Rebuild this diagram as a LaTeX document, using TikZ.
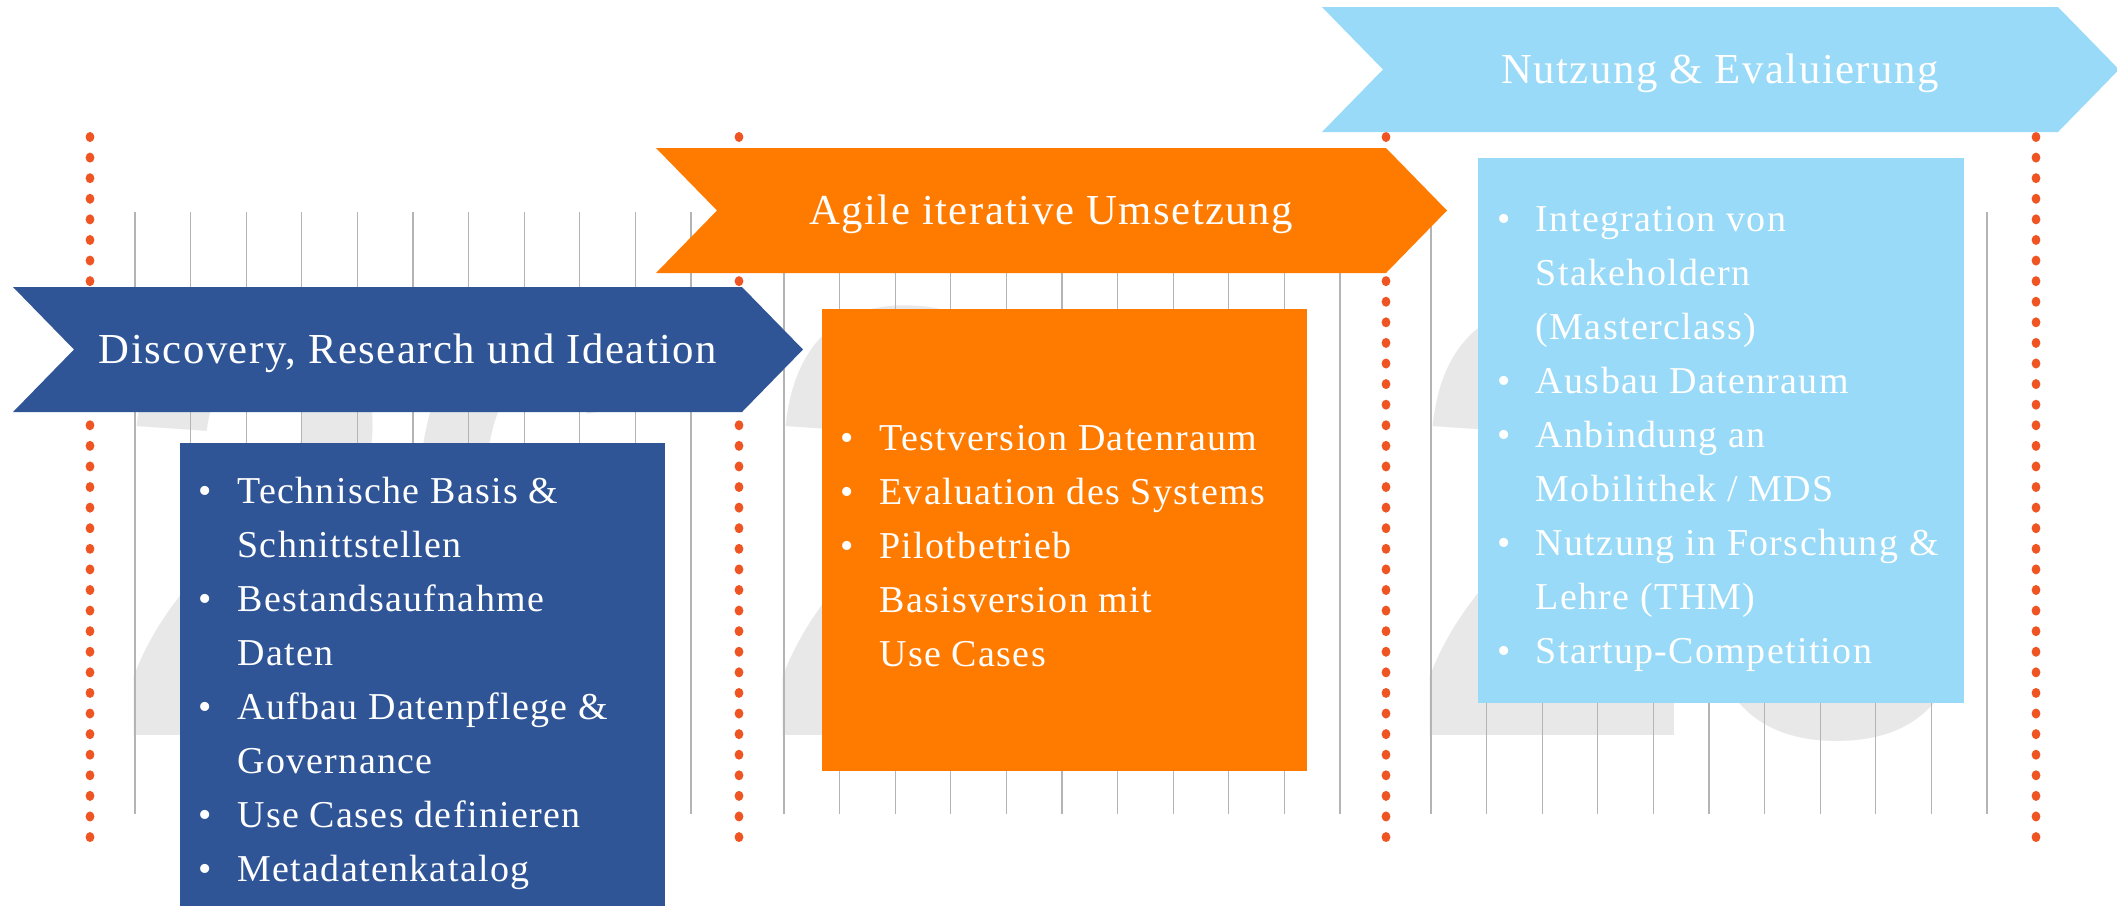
\documentclass[tikz,border=0pt]{standalone}
\usepackage{fontspec}
\usepackage{xcolor}
\usepackage{graphicx}
\setmainfont{Liberation Serif}[LetterSpace=3.5]
\newfontfamily\yearfont{Liberation Sans}

\definecolor{phaseblue}{HTML}{2F5597}
\definecolor{phaseorange}{HTML}{FF7B00}
\definecolor{phasesky}{HTML}{98DAF7}
\definecolor{dotred}{HTML}{EF5522}
\definecolor{gridgray}{HTML}{B4B4B4}
\definecolor{yeargray}{HTML}{E8E8E8}

\newcommand{\bul}{\makebox[0.385cm][l]{\textbullet}}
\newcommand{\hang}{\hspace*{0.385cm}}

\begin{document}
\begin{tikzpicture}[x=0.01cm, y=-0.01cm,
    phasetext/.style={text=white, font=\fontsize{12.15}{14}\selectfont, inner sep=0, anchor=base},
    listbox/.style={minimum width=4.85cm, inner sep=0},
    listtext/.style={text=white, font=\fontsize{10.8}{15.36}\selectfont, align=left, inner sep=0, anchor=west},
    gridline/.style={gridgray, line width=0.35pt},
    yearnum/.style={text=yeargray, font=\yearfont\bfseries\fontsize{175}{175}\selectfont, inner sep=0, anchor=base west}
]
    \useasboundingbox (0,0) rectangle (2117,905);

    \node [yearnum] (year1) at (116,735) {\scalebox{0.825}[1]{26}};
    \node [yearnum] (year2) at (765,735) {\scalebox{0.825}[1]{27}};
    \node [yearnum] (year3) at (1412,735) {\scalebox{0.825}[1]{28}};

    \foreach \d in {90,739,1386}
        \foreach \k in {0,...,10}
            \draw[gridline] ({\d+45+55.6*\k},212) -- ++(0,602);

    \foreach \d in {90,739,1386,2036}
        \foreach \i in {0,...,34}
            \fill[dotred] (\d,{137+20.59*\i}) ellipse [x radius=4.4, y radius=5];

    \fill[phasesky] (1322,7) -- (2058,7) -- (2119,69.5) -- (2058,132) -- (1322,132) -- (1383,69.5) -- cycle;
    \fill[phaseorange] (656,148) -- (1386,148) -- (1447,210.5) -- (1386,273) -- (656,273) -- (717,210.5) -- cycle;
    \fill[phaseblue] (13,287) -- (742,287) -- (803,349.5) -- (742,412) -- (13,412) -- (74,349.5) -- cycle;

    \node [phasetext] (phase1) at (408,363.5) {Discovery, Research und Ideation};
    \node [phasetext] (phase2) at (1051,224.5) {Agile iterative Umsetzung};
    \node [phasetext] (phase3) at (1720,83.5) {Nutzung \& Evaluierung};

    \node [listbox, fill=phaseblue, minimum height=4.72cm] (box1) at (422.5,679) {};
    \node [listbox, fill=phaseorange, minimum height=4.62cm] (box2) at (1064.5,540) {};
    \node [listbox, fill=phasesky, minimum height=5.45cm] (box3) at (1721,430.5) {};

    \node [listtext] (list1) at ([xshift=0.19cm]box1.west |- 0,683) {%
        \bul Technische Basis \&\\
        \hang Schnittstellen\\
        \bul Bestandsaufnahme\\
        \hang Daten\\
        \bul Aufbau Datenpflege \&\\
        \hang Governance\\
        \bul Use Cases definieren\\
        \bul Metadatenkatalog};
    \node [listtext] (list2) at ([xshift=0.19cm]box2.west |- 0,546) {%
        \bul Testversion Datenraum\\
        \bul Evaluation des Systems\\
        \bul Pilotbetrieb\\
        \hang Basisversion mit\\
        \hang Use Cases};
    \node [listtext] (list3) at ([xshift=0.19cm]box3.west |- 0,439) {%
        \bul Integration von\\
        \hang Stakeholdern\\
        \hang (Masterclass)\\
        \bul Ausbau Datenraum\\
        \bul Anbindung an\\
        \hang Mobilithek / MDS\\
        \bul Nutzung in Forschung \&\\
        \hang Lehre (THM)\\
        \bul Startup-Competition};

\end{tikzpicture}
\end{document}
